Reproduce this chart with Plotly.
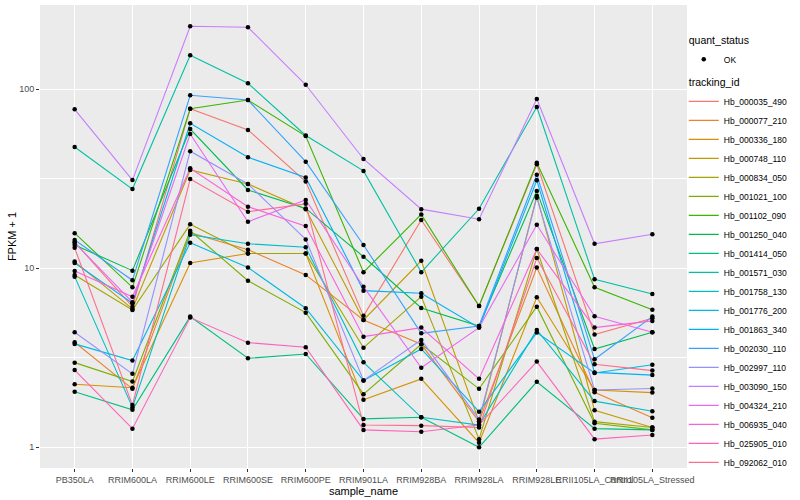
import plotly.graph_objects as go

samples = ["PB350LA", "RRIM600LA", "RRIM600LE", "RRIM600SE", "RRIM600PE", "RRIM901LA",
           "RRIM928BA", "RRIM928LA", "RRIM928LE", "RRII105LA_Control", "RRII105LA_Stressed"]

tracking_ids = ["Hb_000035_490", "Hb_000077_210", "Hb_000336_180", "Hb_000748_110", "Hb_000834_050",
                "Hb_001021_100", "Hb_001102_090", "Hb_001250_040", "Hb_001414_050", "Hb_001571_030",
                "Hb_001758_130", "Hb_001776_200", "Hb_001863_340", "Hb_002030_110", "Hb_002997_110",
                "Hb_003090_150", "Hb_004324_210", "Hb_006935_040", "Hb_025905_010", "Hb_092062_010"]

colors = ["#F8766D", "#EA8331", "#D89000", "#C09B00", "#A3A500", "#7CAE00", "#39B600", "#00BB4E",
          "#00BF7D", "#00C1A3", "#00BFC4", "#00BAE0", "#00B0F6", "#35A2FF", "#9590FF", "#C77CFF",
          "#E76BF3", "#FA62DB", "#FF62BC", "#FF6C91"]

# FPKM + 1 per sample (same order as samples)
hb_000035_490 = [14.0, 6.10, 77.9, 59.3, 30.5, 5.42, 18.6, 6.16, 38.1, 4.26, 5.26]
hb_000077_210 = [3.86, 2.12, 15.8, 12.7, 9.18, 5.14, 3.76, 1.39, 10.1, 2.03, 1.46]
hb_000336_180 = [2.25, 2.15, 10.7, 12.1, 12.1, 1.84, 2.41, 1.06, 6.89, 2.09, 2.02]
hb_000748_110 = [10.9, 5.93, 35.4, 29.6, 21.4, 5.14, 11.0, 1.39, 25.3, 1.61, 1.29]
hb_000834_050 = [9.18, 5.85, 17.6, 12.1, 12.1, 3.60, 6.94, 1.11, 12.8, 1.39, 1.29]
hb_001021_100 = [2.97, 2.33, 16.2, 8.52, 5.65, 1.98, 3.76, 2.12, 6.10, 1.36, 1.25]
hb_001102_090 = [15.7, 7.83, 77.9, 87.1, 54.8, 9.50, 20.0, 6.16, 38.9, 7.83, 5.87]
hb_001250_040 = [13.5, 9.70, 60.0, 27.4, 21.6, 11.6, 6.00, 4.76, 27.0, 3.54, 4.39]
hb_001414_050 = [2.04, 1.62, 5.37, 3.14, 3.32, 1.44, 1.47, 1.00, 2.32, 1.27, 1.25]
hb_001571_030 = [47.6, 27.7, 155.0, 108.0, 55.2, 35.0, 9.50, 21.5, 79.6, 8.68, 7.18]
hb_001758_130 = [8.98, 1.67, 15.4, 13.7, 13.1, 2.98, 1.47, 1.33, 4.52, 1.81, 1.59]
hb_001776_200 = [3.78, 3.05, 13.9, 10.1, 5.98, 2.36, 3.54, 1.58, 4.37, 2.60, 2.89]
hb_001863_340 = [10.7, 6.38, 64.6, 41.7, 32.2, 7.50, 7.25, 4.66, 31.0, 2.62, 2.53]
hb_002030_110 = [14.4, 8.57, 92.6, 87.1, 39.4, 13.5, 4.33, 4.76, 33.3, 3.10, 5.37]
hb_002997_110 = [4.39, 2.57, 45.1, 29.6, 14.5, 2.36, 3.98, 1.43, 24.8, 2.09, 2.13]
hb_003090_150 = [77.3, 31.1, 225.0, 222.0, 106.0, 40.8, 21.4, 18.8, 88.3, 13.7, 15.5]
hb_004324_210 = [13.9, 6.46, 56.3, 18.2, 24.1, 7.89, 2.78, 4.66, 17.5, 5.39, 4.39]
hb_006935_040 = [9.66, 6.94, 36.2, 22.1, 17.2, 4.15, 4.66, 2.41, 12.8, 4.66, 5.08]
hb_025905_010 = [2.70, 1.27, 5.30, 3.84, 3.62, 1.25, 1.22, 1.33, 3.01, 1.11, 1.17]
hb_092062_010 = [13.0, 1.72, 31.5, 20.7, 22.9, 1.33, 1.32, 1.29, 11.4, 2.91, 2.68]

series = [hb_000035_490, hb_000077_210, hb_000336_180, hb_000748_110, hb_000834_050,
          hb_001021_100, hb_001102_090, hb_001250_040, hb_001414_050, hb_001571_030,
          hb_001758_130, hb_001776_200, hb_001863_340, hb_002030_110, hb_002997_110,
          hb_003090_150, hb_004324_210, hb_006935_040, hb_025905_010, hb_092062_010]

fig = go.Figure()

for i, (tid, col, vals) in enumerate(zip(tracking_ids, colors, series)):
    fig.add_trace(go.Scatter(
        x=samples, y=vals, mode="lines", name=tid,
        line=dict(color=col, width=1.1),
        legendgroup="tracking_id",
        legendgrouptitle=dict(text="tracking_id", font=dict(size=10.5, color="black")) if i == 0 else None,
        legendrank=2,
    ))

all_x = [s for vals in series for s in samples]
all_y = [v for vals in series for v in vals]
fig.add_trace(go.Scatter(
    x=all_x, y=all_y, mode="markers", name="OK",
    marker=dict(color="black", size=4.5, symbol="circle"),
    legendgroup="quant_status",
    legendgrouptitle=dict(text="quant_status", font=dict(size=10.5, color="black")),
    legendrank=1,
))

fig.update_layout(
    width=800, height=500,
    margin=dict(l=40, r=113, t=5, b=32, autoexpand=False),
    plot_bgcolor="#EBEBEB", paper_bgcolor="white",
    font=dict(family="Liberation Sans, Arial, sans-serif", size=9, color="#4D4D4D"),
    showlegend=True,
    legend=dict(
        x=0.995, y=0.955, xanchor="left", yanchor="top",
        font=dict(size=8.5, color="black"),
        tracegroupgap=4, traceorder="grouped",
        bgcolor="rgba(0,0,0,0)", itemwidth=30,
    ),
)

fig.update_xaxes(
    type="category", categoryorder="array", categoryarray=samples,
    range=[-0.6, 10.6], showgrid=True, gridcolor="white", gridwidth=1.1,
    ticks="outside", ticklen=3, tickcolor="#333333", tickangle=0,
    tickfont=dict(size=9, color="#4D4D4D"),
    zeroline=False, showline=False,
    title=dict(text="sample_name", font=dict(size=11, color="black"), standoff=0),
)

fig.update_yaxes(
    type="log", range=[-0.116, 2.471],
    tickmode="array", tickvals=[1, 10, 100], ticktext=["1", "10", "100"],
    showgrid=True, gridcolor="white", gridwidth=1.1,
    minor=dict(tickmode="array", tickvals=[3.1623, 31.623], showgrid=True,
               gridcolor="white", gridwidth=0.5, ticks=""),
    ticks="outside", ticklen=3, tickcolor="#333333",
    tickfont=dict(size=9, color="#4D4D4D"),
    zeroline=False, showline=False,
    title=dict(text="FPKM + 1", font=dict(size=11, color="black"), standoff=0),
)

fig.write_html("out.html", config={"displayModeBar": False},
               post_script="document.body.style.margin='0px';")
